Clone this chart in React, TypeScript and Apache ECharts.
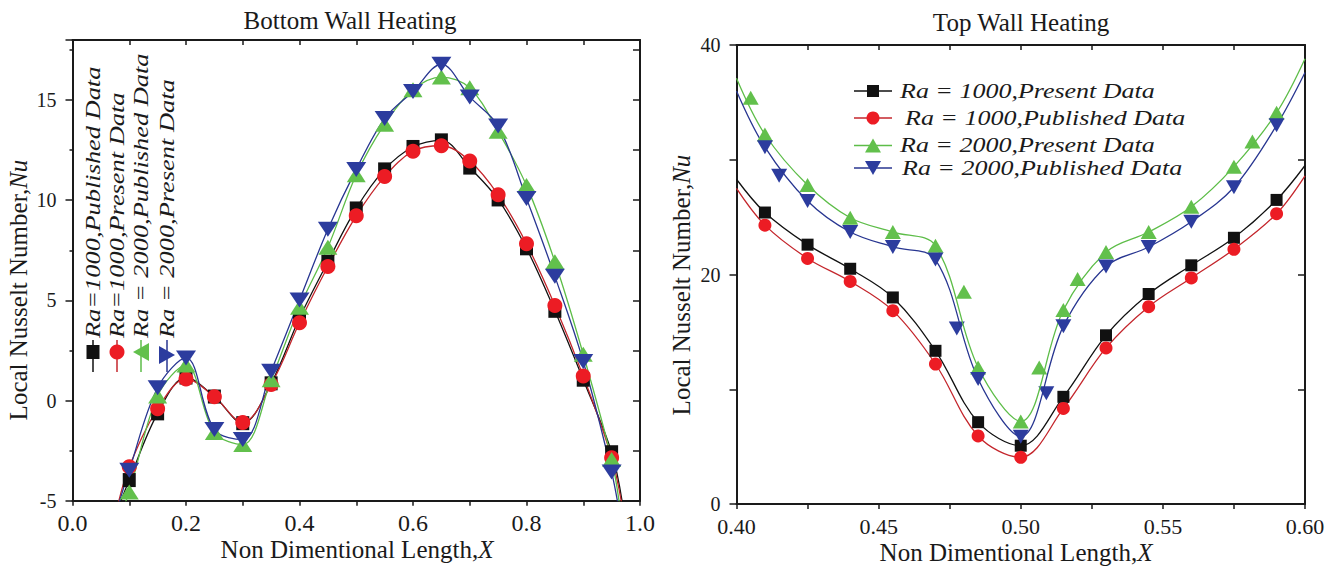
import React, { useEffect, useRef } from 'react';
import * as echarts from 'echarts';

const FONT = '"Liberation Serif", "Times New Roman", serif';
const INK = '#1a1a1a';

// ---------- Left chart: Bottom Wall Heating ----------
const leftX = [0.1, 0.15, 0.2, 0.25, 0.3, 0.35, 0.4, 0.45, 0.5, 0.55, 0.6, 0.65, 0.7, 0.75, 0.8, 0.85, 0.9, 0.95];
const leftBlack = [-3.97, -0.64, 1.15, 0.2, -1.13, 0.86, 4.12, 6.93, 9.59, 11.54, 12.66, 12.99, 11.63, 10.04, 7.6, 4.48, 1.04, -2.58];
const leftRed = [-3.3, -0.41, 1.08, 0.19, -1.09, 0.8, 3.88, 6.69, 9.22, 11.18, 12.45, 12.72, 11.96, 10.27, 7.83, 4.75, 1.22, -2.85];
const leftGreen = [-4.57, 0.23, 1.77, -1.6, -2.2, 1.04, 4.66, 7.65, 11.27, 13.8, 15.52, 16.15, 15.61, 13.44, 10.73, 6.93, 2.31, -2.94];
const leftBlue = [-3.48, 0.64, 2.13, -1.45, -1.95, 1.46, 5.02, 8.55, 11.54, 14.08, 15.43, 16.79, 15.16, 13.71, 10.09, 6.2, 1.95, -3.57];
// where the fitted curves leave the frame
const leftCurveStartX = [0.08, 0.08, 0.085, 0.08];
const leftCurveStartY = [-5.4, -5.2, -5.6, -5.3];
const leftCurveEndX = [0.97, 0.97, 0.965, 0.965];
const leftCurveEndY = [-5.3, -5.5, -5.4, -5.8];
const leftNames = ['Ra=1000,Published Data', 'Ra=1000,Present Data', 'Ra = 2000,Published Data', 'Ra = 2000,Present Data'];
const leftXTicks = [0, 0.2, 0.4, 0.6, 0.8, 1.0];
const leftYTicks = [-5, 0, 5, 10, 15];

// ---------- Right chart: Top Wall Heating ----------
const rightX = [0.41, 0.425, 0.44, 0.455, 0.47, 0.485, 0.5, 0.515, 0.53, 0.545, 0.56, 0.575, 0.59];
const rightBlack = [25.4, 22.6, 20.5, 18.0, 13.35, 7.13, 5.08, 9.34, 14.7, 18.3, 20.8, 23.2, 26.5];
const rightRed = [24.3, 21.4, 19.4, 16.85, 12.2, 5.93, 4.07, 8.33, 13.6, 17.2, 19.7, 22.2, 25.3];
const rightGreen = [32.2, 27.8, 24.95, 23.7, 22.5, 11.9, 7.2, 16.9, 21.95, 23.7, 25.9, 29.4, 34.1];
const rightBlue = [31.1, 26.4, 23.7, 22.4, 21.3, 10.9, 5.87, 15.5, 20.7, 22.4, 24.6, 27.6, 33.0];
const rightCurveStartY = [28.3, 27.5, 37.1, 36.0]; // at x = 0.40
const rightCurveEndY = [29.5, 28.6, 38.8, 37.6]; // at x = 0.60
const greenExtraX = [0.405, 0.48, 0.5065, 0.52, 0.5815];
const greenExtraY = [35.4, 18.5, 11.9, 19.6, 31.6];
const blueExtraX = [0.415, 0.4775, 0.509];
const blueExtraY = [28.6, 15.3, 9.66];
const rightNames = ['Ra = 1000,Present Data', 'Ra = 1000,Published Data', 'Ra = 2000,Present Data', 'Ra = 2000,Published Data'];
const rightXTicks = [0.4, 0.45, 0.5, 0.55, 0.6];
const rightYTicks = [0, 20, 40];

const BLACK = '#111111';
const RED = '#ec1c24';
const RED_LINE = '#c4262c';
const GREEN = '#62c04c';
const GREEN_LINE = '#5dbd48';
const BLUE = '#2c3c9e';
const BLUE_LINE = '#283691';
const DOWN_TRI = 'path://M0,0L10,0L5,10Z';

const near = (v: number, list: number[]) => list.some((t) => Math.abs(t - v) < 1e-6);

function lineSeries(
  name: string,
  xs: number[],
  ys: number[],
  start: [number, number],
  end: [number, number],
  color: string,
  lineColor: string,
  symbol: string,
  size: number | number[]
) {
  const data: any[] = [{ value: start, symbol: 'none' }];
  xs.forEach((x, i) => data.push([x, ys[i]]));
  data.push({ value: end, symbol: 'none' });
  return {
    type: 'line',
    name,
    data,
    smooth: 0.35,
    symbol,
    symbolSize: size,
    showAllSymbol: true,
    clip: true,
    xAxisIndex: 0,
    yAxisIndex: 0,
    lineStyle: { color: lineColor, width: 1.3 },
    itemStyle: { color, borderWidth: 0, opacity: 1 },
    emphasis: { disabled: true },
  };
}

function scatterSeries(xs: number[], ys: number[], color: string, symbol: string, size: number[]) {
  return {
    type: 'scatter',
    data: xs.map((x, i) => [x, ys[i]]),
    symbol,
    symbolSize: size,
    xAxisIndex: 0,
    yAxisIndex: 0,
    itemStyle: { color, borderWidth: 0, opacity: 1 },
    emphasis: { disabled: true },
  };
}

const axisLineStyle = { color: INK, width: 2 };
const tickStyle = { color: INK, width: 1.5 };

function frameAxes(
  xmin: number,
  xmax: number,
  xint: number,
  xLabels: number[],
  xDigits: number,
  ymin: number,
  ymax: number,
  yint: number,
  yLabels: number[],
  yMinor: boolean,
  xMargin: number,
  xFont: number
) {
  const xAxis = [
    {
      type: 'value',
      min: xmin,
      max: xmax,
      interval: xint,
      position: 'bottom',
      axisLine: { onZero: false, lineStyle: axisLineStyle },
      axisTick: { inside: false, length: 5, lineStyle: tickStyle },
      axisLabel: {
        formatter: (v: number) => (near(v, xLabels) ? v.toFixed(xDigits) : ''),
        fontSize: xFont,
        fontFamily: FONT,
        color: INK,
        margin: xMargin,
        showMinLabel: true,
        showMaxLabel: true,
      },
      splitLine: { show: false },
    },
    {
      type: 'value',
      min: xmin,
      max: xmax,
      interval: xint,
      position: 'top',
      axisLine: { onZero: false, lineStyle: axisLineStyle },
      axisTick: { inside: true, length: 5, lineStyle: tickStyle },
      axisLabel: { show: false },
      splitLine: { show: false },
    },
  ];
  const yAxis = [
    {
      type: 'value',
      min: ymin,
      max: ymax,
      interval: yMinor ? yint * 2 : yint,
      position: 'left',
      axisLine: { show: true, onZero: false, lineStyle: axisLineStyle },
      axisTick: { show: true, inside: false, length: 7, lineStyle: tickStyle },
      minorTick: { show: yMinor, splitNumber: 2, length: 3, lineStyle: tickStyle },
      axisLabel: {
        formatter: (v: number) => (near(v, yLabels) ? String(v) : ''),
        fontSize: 20,
        fontFamily: FONT,
        color: INK,
        margin: 16,
        showMinLabel: true,
        showMaxLabel: true,
      },
      splitLine: { show: false },
      minorSplitLine: { show: false },
    },
    {
      type: 'value',
      min: ymin,
      max: ymax,
      interval: yint,
      position: 'right',
      axisLine: { show: true, onZero: false, lineStyle: axisLineStyle },
      axisTick: { show: true, inside: true, length: 7, lineStyle: tickStyle },
      axisLabel: { show: false },
      splitLine: { show: false },
    },
  ];
  return { xAxis, yAxis };
}

function plainText(x: number, y: number, text: string, opts: any = {}) {
  return {
    type: 'text',
    x,
    y,
    rotation: opts.rotation || 0,
    scaleX: opts.scaleX || 1,
    silent: true,
    style: {
      text,
      x: 0,
      y: 0,
      align: opts.align || 'center',
      verticalAlign: 'middle',
      fontSize: opts.fontSize || 25,
      fontFamily: FONT,
      fontStyle: opts.italic ? 'italic' : 'normal',
      fill: INK,
      rich: {
        i: { fontStyle: 'italic', fontSize: opts.fontSize || 25, fontFamily: FONT, fill: INK },
      },
    },
  };
}

// ---------------- left option ----------------
const leftAxes = frameAxes(0, 1, 0.1, leftXTicks, 1, -5, 18, 2.5, leftYTicks, true, 10, 24);

const leftLegendX = [93, 117, 141, 167];
const leftLegendMarkY = [352, 352, 352, 355];

const leftGraphic: any[] = [
  plainText(350, 20, 'Bottom Wall Heating'),
  plainText(357, 549, 'Non Dimentional Length,{i|X}'),
  plainText(18, 290, 'Local Nusselt Number,{i|Nu}', { rotation: Math.PI / 2 }),
];
leftNames.forEach((name, i) => {
  const x = leftLegendX[i];
  const my = leftLegendMarkY[i];
  const colors = [BLACK, RED_LINE, GREEN_LINE, BLUE_LINE];
  const fills = [BLACK, RED, GREEN, BLUE];
  leftGraphic.push({
    type: 'line',
    silent: true,
    shape: { x1: x, y1: 340, x2: x, y2: 372 },
    style: { stroke: colors[i], lineWidth: 1.5 },
  });
  let mark: any;
  if (i === 0) mark = { type: 'rect', shape: { x: x - 6.5, y: my - 7, width: 13, height: 14 } };
  else if (i === 1) mark = { type: 'circle', shape: { cx: x, cy: my, r: 7.5 } };
  else if (i === 2)
    mark = { type: 'polygon', shape: { points: [[x - 8, my], [x + 8, my - 9], [x + 8, my + 9]] } };
  else mark = { type: 'polygon', shape: { points: [[x + 8, my], [x - 8, my - 9], [x - 8, my + 9]] } };
  mark.silent = true;
  mark.style = { fill: fills[i] };
  leftGraphic.push(mark);
  leftGraphic.push(
    plainText(x, 338, name, { rotation: Math.PI / 2, align: 'left', fontSize: 20, italic: true, scaleX: 1.32 })
  );
});

const leftOption: any = {
  animation: false,
  backgroundColor: '#ffffff',
  grid: { left: 72.5, right: 29, top: 40, bottom: 67.3 },
  xAxis: leftAxes.xAxis,
  yAxis: leftAxes.yAxis,
  series: [
    lineSeries(leftNames[0], leftX, leftBlack, [leftCurveStartX[0], leftCurveStartY[0]], [leftCurveEndX[0], leftCurveEndY[0]], BLACK, BLACK, 'rect', [13, 14]),
    lineSeries(leftNames[1], leftX, leftRed, [leftCurveStartX[1], leftCurveStartY[1]], [leftCurveEndX[1], leftCurveEndY[1]], RED, RED_LINE, 'circle', 15),
    lineSeries(leftNames[2], leftX, leftGreen, [leftCurveStartX[2], leftCurveStartY[2]], [leftCurveEndX[2], leftCurveEndY[2]], GREEN, GREEN_LINE, 'triangle', [19, 15]),
    lineSeries(leftNames[3], leftX, leftBlue, [leftCurveStartX[3], leftCurveStartY[3]], [leftCurveEndX[3], leftCurveEndY[3]], BLUE, BLUE_LINE, DOWN_TRI, [20, 15]),
  ],
  graphic: leftGraphic,
};

// ---------------- right option ----------------
const rightAxes = frameAxes(0.4, 0.6, 0.025, rightXTicks, 2, 0, 40, 10, rightYTicks, false, 11, 22);

const rightLegendY = [91, 118, 145.5, 168];
const rightLegendTextX = [231, 236, 231, 233];
const rightGraphic: any[] = [
  plainText(352, 22, 'Top Wall Heating'),
  plainText(347, 552, 'Non Dimentional Length,{i|X}'),
  plainText(12, 285, 'Local Nusselt Number,{i|Nu}', { rotation: Math.PI / 2 }),
];
rightNames.forEach((name, i) => {
  const y = rightLegendY[i];
  const cx = 204;
  const colors = [BLACK, RED_LINE, GREEN_LINE, BLUE_LINE];
  const fills = [BLACK, RED, GREEN, BLUE];
  rightGraphic.push({
    type: 'line',
    silent: true,
    shape: { x1: 185, y1: y, x2: 223, y2: y },
    style: { stroke: colors[i], lineWidth: 1.5 },
  });
  let mark: any;
  if (i === 0) mark = { type: 'rect', shape: { x: cx - 6, y: y - 6, width: 12, height: 12 } };
  else if (i === 1) mark = { type: 'circle', shape: { cx, cy: y, r: 6.5 } };
  else if (i === 2) mark = { type: 'polygon', shape: { points: [[cx, y - 7], [cx - 8, y + 7], [cx + 8, y + 7]] } };
  else mark = { type: 'polygon', shape: { points: [[cx - 8, y - 7], [cx + 8, y - 7], [cx, y + 7]] } };
  mark.silent = true;
  mark.style = { fill: fills[i] };
  rightGraphic.push(mark);
  rightGraphic.push(plainText(rightLegendTextX[i], y, name, { align: 'left', fontSize: 20, italic: true, scaleX: 1.3 }));
});

const rightOption: any = {
  animation: false,
  backgroundColor: '#ffffff',
  grid: { left: 67.5, right: 33, top: 45, bottom: 64 },
  xAxis: rightAxes.xAxis,
  yAxis: rightAxes.yAxis,
  series: [
    lineSeries(rightNames[0], rightX, rightBlack, [0.4, rightCurveStartY[0]], [0.6, rightCurveEndY[0]], BLACK, BLACK, 'rect', 12),
    lineSeries(rightNames[1], rightX, rightRed, [0.4, rightCurveStartY[1]], [0.6, rightCurveEndY[1]], RED, RED_LINE, 'circle', 13),
    lineSeries(rightNames[2], rightX, rightGreen, [0.4, rightCurveStartY[2]], [0.6, rightCurveEndY[2]], GREEN, GREEN_LINE, 'triangle', [16, 14]),
    scatterSeries(greenExtraX, greenExtraY, GREEN, 'triangle', [16, 14]),
    lineSeries(rightNames[3], rightX, rightBlue, [0.4, rightCurveStartY[3]], [0.6, rightCurveEndY[3]], BLUE, BLUE_LINE, DOWN_TRI, [16, 14]),
    scatterSeries(blueExtraX, blueExtraY, BLUE, DOWN_TRI, [16, 14]),
  ],
  graphic: rightGraphic,
};

function EChart({ option, style }: { option: any; style: React.CSSProperties }) {
  const ref = useRef<HTMLDivElement>(null);
  useEffect(() => {
    if (!ref.current) return;
    const chart = echarts.init(ref.current, undefined, { renderer: 'svg' });
    chart.setOption(option);
    return () => chart.dispose();
  }, [option]);
  return <div ref={ref} style={style} />;
}

export default function App() {
  return (
    <div style={{ position: 'absolute', left: 0, top: 0, width: 1338, height: 568, background: '#fff', overflow: 'hidden' }}>
      <EChart option={leftOption} style={{ position: 'absolute', left: 0, top: 0, width: 669, height: 568 }} />
      <EChart option={rightOption} style={{ position: 'absolute', left: 669, top: 0, width: 669, height: 568 }} />
    </div>
  );
}
